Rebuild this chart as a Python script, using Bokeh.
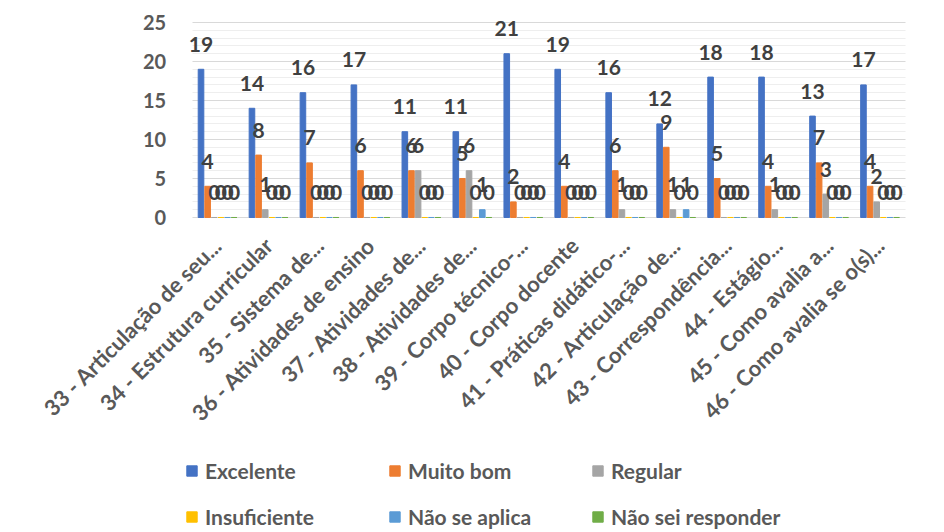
import math
from bokeh.plotting import figure
from bokeh.models import ColumnDataSource, Legend, LegendItem, FixedTicker, Range1d
from bokeh.transform import dodge
from bokeh.core.properties import value
from bokeh.embed import file_html
from bokeh.resources import INLINE

categories = [
    "33 - Articulação de seu...",
    "34 - Estrutura curricular",
    "35 - Sistema de...",
    "36 - Atividades de ensino",
    "37 - Atividades de...",
    "38 - Atividades de...",
    "39 - Corpo técnico-...",
    "40 - Corpo docente",
    "41 - Práticas didático-...",
    "42 - Articulação de...",
    "43 - Correspondência...",
    "44 - Estágio...",
    "45 - Como avalia a...",
    "46 - Como avalia se o(s)...",
]
series_names = ["Excelente", "Muito bom", "Regular", "Insuficiente", "Não se aplica", "Não sei responder"]
excelente = [19, 14, 16, 17, 11, 11, 21, 19, 16, 12, 18, 18, 13, 17]
muito_bom = [4, 8, 7, 6, 6, 5, 2, 4, 6, 9, 5, 4, 7, 4]
regular = [0, 1, 0, 0, 6, 6, 0, 0, 1, 1, 0, 1, 3, 2]
insuficiente = [0, 0, 0, 0, 0, 0, 0, 0, 0, 0, 0, 0, 0, 0]
nao_se_aplica = [0, 0, 0, 0, 0, 1, 0, 0, 0, 1, 0, 0, 0, 0]
nao_sei = [0, 0, 0, 0, 0, 0, 0, 0, 0, 0, 0, 0, 0, 0]
yticks = [0, 5, 10, 15, 20, 25]
yminor = [v for v in range(0, 26) if v not in yticks]

colors = ["#4472C4", "#ED7D31", "#A5A5A5", "#FFC000", "#5B9BD5", "#70AD47"]
series = [excelente, muito_bom, regular, insuficiente, nao_se_aplica, nao_sei]
keys = ["s0", "s1", "s2", "s3", "s4", "s5"]

xpos = list(range(1, len(categories) + 1))
data = {"x": xpos, "cat": categories}
for k, s in zip(keys, series):
    data[k] = s
    data[k + "_t"] = [str(v) for v in s]
src = ColumnDataSource(data)

FONT = "Lato"
TXT = "#595959"

# The frame covers the whole canvas; the axes are pinned inside it
p = figure(x_range=Range1d(-3.26, 14.5), y_range=Range1d(-40.13, 27.82),
           frame_width=905, frame_height=530,
           output_backend="svg", toolbar_location=None,
           min_border_left=0, min_border_right=35, min_border_top=0, min_border_bottom=0)
p.outline_line_color = None
p.background_fill_color = "white"

offsets = [-0.325, -0.195, -0.065, 0.065, 0.195, 0.325]
items = []
for k, off, c, name in zip(keys, offsets, colors, series_names):
    r = p.vbar(x=dodge("x", off), top=k, bottom=0, width=0.11,
               source=src, fill_color=c, line_color=c)
    items.append(LegendItem(label=name, renderers=[r]))
for k, off in zip(keys, offsets):
    p.text(x=dodge("x", off), y=k, text=k + "_t", source=src,
           text_font=value(FONT), text_font_style="bold", text_font_size="21px",
           text_color="#404040", text_align="center", text_baseline="middle", y_offset=-25)

p.yaxis.fixed_location = 0.5
p.yaxis.ticker = FixedTicker(ticks=yticks, minor_ticks=yminor)
p.yaxis.axis_line_color = None
p.yaxis.major_tick_line_color = None
p.yaxis.minor_tick_line_color = None
p.yaxis.major_label_text_font = FONT
p.yaxis.major_label_text_font_style = "bold"
p.yaxis.major_label_text_font_size = "20px"
p.yaxis.major_label_text_color = TXT
p.yaxis.major_label_standoff = 20

p.xaxis.fixed_location = 0
p.xaxis.ticker = FixedTicker(ticks=xpos, minor_ticks=[])
p.xaxis.major_label_overrides = {x: c for x, c in zip(xpos, categories)}
p.xaxis.axis_line_color = None
p.xaxis.major_tick_line_color = None
p.xaxis.minor_tick_line_color = None
p.xaxis.major_label_orientation = math.pi / 4
p.xaxis.major_label_text_font = FONT
p.xaxis.major_label_text_font_style = "bold"
p.xaxis.major_label_text_font_size = "22px"
p.xaxis.major_label_text_color = TXT
p.xaxis.major_label_standoff = 18

p.xgrid.grid_line_color = None
p.ygrid.grid_line_color = "#D9D9D9"
p.ygrid.minor_grid_line_color = "#EEEEEE"
p.ygrid.cross_bounds = (0.5, 14.6)

legend = Legend(items=items, orientation="horizontal", ncols=3,
                location=(185, 1), border_line_color=None,
                background_fill_alpha=0,
                label_text_font=FONT, label_text_font_style="bold",
                label_text_font_size="21px", label_text_color=TXT,
                glyph_width=13, glyph_height=13, label_standoff=7,
                label_width=162, label_height=20, spacing=21,
                padding=0, margin=0)
p.add_layout(legend, "center")

open("out.html", "w").write(file_html(p, INLINE))
